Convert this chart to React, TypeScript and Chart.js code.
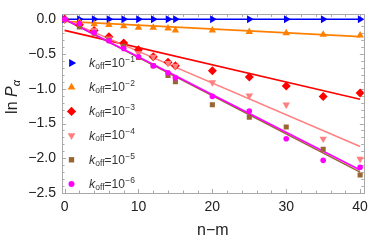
import React, { useEffect, useRef } from "react";
import { Chart, registerables } from "chart.js";
Chart.register(...registerables);

const xValues = [0, 2, 4, 6, 8, 10, 12, 14, 15, 20, 25, 30, 35, 40];
const exponents = ["−1", "−2", "−3", "−4", "−5", "−6"];
const koff1 = [0, 0, 0, 0, 0, 0, 0, 0, 0, 0, 0, 0, 0, 0];
const koff2 = [0, -0.04, -0.07, -0.08, -0.1, -0.12, -0.12, -0.13, -0.16, -0.16, -0.18, -0.2, -0.22, -0.23];
const koff3 = [0, -0.08, -0.16, -0.25, -0.34, -0.44, -0.54, -0.62, -0.67, -0.74, -0.83, -0.96, -1.11, -1.06];
const koff4 = [0, -0.08, -0.16, -0.28, -0.4, -0.49, -0.54, -0.63, -0.67, -0.91, -1.1, -1.23, -1.72, -2.01];
const koff5 = [0, -0.11, -0.2, -0.3, -0.39, -0.55, -0.67, -0.81, -0.9, -1.23, -1.41, -1.55, -1.87, -2.24];
const koff6 = [0, -0.06, -0.19, -0.31, -0.42, -0.54, -0.67, -0.77, -0.84, -1.11, -1.32, -1.72, -2.03, -2.13];
const fitX = [0, 40];
const fit1 = [0, 0];
const fit2 = [-0.03, -0.25];
const fit3 = [-0.16, -1.15];
const fit4 = [-0.005, -1.83];
const fit5 = [0, -2.2];
const fit6 = [0, -2.17];
const xTicks = [0, 10, 20, 30, 40];
const yTicks = [0, -0.5, -1, -1.5, -2, -2.5];

const seriesValues = [koff1, koff2, koff3, koff4, koff5, koff6];
const fitValues = [fit1, fit2, fit3, fit4, fit5, fit6];
const colors = ["#0000ff", "#ff8000", "#ff0000", "#ff8080", "#996633", "#ff00ff"];
const styles = ["triangle", "triangle", "rectRot", "triangle", "rect", "circle"];
const rotations = [90, 0, 0, 180, 0, 0];
const radii = [4.5, 4.3, 4.5, 4.3, 3.6, 2.8];

function drawMarker(ctx: CanvasRenderingContext2D, style: string, x: number, y: number, r: number, rotDeg: number, color: string) {
  ctx.save();
  ctx.fillStyle = color;
  ctx.beginPath();
  const rad = (rotDeg * Math.PI) / 180;
  if (style === "triangle") {
    let a = rad;
    ctx.moveTo(x + Math.sin(a) * r, y - Math.cos(a) * r);
    a += (2 * Math.PI) / 3;
    ctx.lineTo(x + Math.sin(a) * r, y - Math.cos(a) * r);
    a += (2 * Math.PI) / 3;
    ctx.lineTo(x + Math.sin(a) * r, y - Math.cos(a) * r);
    ctx.closePath();
  } else if (style === "rectRot") {
    const s = r * Math.SQRT1_2 * 1.0;
    ctx.moveTo(x, y - r);
    ctx.lineTo(x + r, y);
    ctx.lineTo(x, y + r);
    ctx.lineTo(x - r, y);
    ctx.closePath();
    void s;
  } else if (style === "rect") {
    const s = r * Math.SQRT1_2;
    ctx.rect(x - s, y - s, 2 * s, 2 * s);
  } else {
    ctx.arc(x, y, r, 0, Math.PI * 2);
  }
  ctx.fill();
  ctx.restore();
}

const decorPlugin = {
  id: "decor",
  beforeDatasetsDraw(chart: any) {
    const { ctx, chartArea: a, scales } = chart;
    const xs = scales.x;
    const ys = scales.y;
    ctx.save();
    ctx.strokeStyle = "#a8a8a8";
    ctx.lineWidth = 1;
    ctx.strokeRect(Math.round(a.left) + 0.5, Math.round(a.top) + 0.5, Math.round(a.right - a.left), Math.round(a.bottom - a.top));
    ctx.beginPath();
    for (let v = 0; v <= 40; v += 2) {
      const major = v % 10 === 0;
      const len = major ? 4 : 2.5;
      const px = Math.round(xs.getPixelForValue(v)) + 0.5;
      ctx.moveTo(px, a.bottom);
      ctx.lineTo(px, a.bottom - len);
      ctx.moveTo(px, a.top);
      ctx.lineTo(px, a.top + len);
    }
    for (let i = 0; i <= 25; i++) {
      const v = -i / 10;
      const major = i % 5 === 0;
      const len = major ? 4 : 2.5;
      const py = Math.round(ys.getPixelForValue(v)) + 0.5;
      ctx.moveTo(a.left, py);
      ctx.lineTo(a.left + len, py);
      ctx.moveTo(a.right, py);
      ctx.lineTo(a.right - len, py);
    }
    ctx.stroke();
    ctx.restore();
  },
  afterDraw(chart: any) {
    const { ctx, chartArea: a } = chart;
    ctx.save();
    // legend
    const mx = 71.5;
    const y0 = 63;
    const dy = 24.2;
    for (let i = 0; i < 6; i++) {
      const y = y0 + i * dy;
      drawMarker(ctx, styles[i], mx, y, radii[i] + 0.2, rotations[i], colors[i]);
      ctx.fillStyle = "#333";
      ctx.textBaseline = "middle";
      ctx.textAlign = "left";
      let tx = 89;
      ctx.font = "italic 12.5px 'Liberation Sans', Arial, sans-serif";
      ctx.fillText("k", tx, y + 0.5);
      tx += ctx.measureText("k").width;
      ctx.font = "8.5px 'Liberation Sans', Arial, sans-serif";
      ctx.fillText("off", tx, y + 3.5);
      tx += ctx.measureText("off").width;
      ctx.font = "12px 'Liberation Sans', Arial, sans-serif";
      ctx.fillText("=10", tx, y + 0.5);
      tx += ctx.measureText("=10").width + 0.3;
      ctx.font = "8.5px 'Liberation Sans', Arial, sans-serif";
      ctx.fillText(exponents[i], tx, y - 3.5);
    }
    // x title
    ctx.fillStyle = "#222";
    ctx.textAlign = "center";
    ctx.textBaseline = "middle";
    ctx.font = "16px 'Liberation Sans', Arial, sans-serif";
    ctx.fillText("n−m", (a.left + a.right) / 2 + 0, 231);
    // y title
    ctx.translate(13, 97);
    ctx.rotate(-Math.PI / 2);
    ctx.textAlign = "left";
    ctx.font = "16px 'Liberation Sans', Arial, sans-serif";
    const p1 = "ln ";
    ctx.font = "16px 'Liberation Sans', Arial, sans-serif";
    const w1 = ctx.measureText(p1).width;
    ctx.font = "italic 16px 'Liberation Sans', Arial, sans-serif";
    const w2 = ctx.measureText("P").width;
    ctx.font = "italic 11px 'Liberation Sans', Arial, sans-serif";
    const w3 = ctx.measureText("α").width;
    let sx = -(w1 + w2 + w3) / 2;
    ctx.font = "16px 'Liberation Sans', Arial, sans-serif";
    ctx.fillText(p1, sx, 0);
    sx += w1;
    ctx.font = "italic 16px 'Liberation Sans', Arial, sans-serif";
    ctx.fillText("P", sx, 0);
    sx += w2;
    ctx.font = "italic 11px 'Liberation Sans', Arial, sans-serif";
    ctx.fillText("α", sx, 4);
    ctx.restore();
  },
};

export default function App() {
  const ref = useRef<HTMLCanvasElement>(null);
  useEffect(() => {
    document.body.style.margin = "0";
    const datasets: any[] = [];
    for (let i = 0; i < 6; i++) {
      datasets.push({
        label: "fit" + i,
        data: fitX.map((x, j) => ({ x, y: fitValues[i][j] })),
        showLine: true,
        borderColor: colors[i],
        borderWidth: 1.6,
        pointRadius: 0,
        order: 20 - i,
      });
    }
    for (let i = 0; i < 6; i++) {
      datasets.push({
        label: "koff" + i,
        data: xValues.map((x, j) => ({ x, y: seriesValues[i][j] })),
        showLine: false,
        pointStyle: styles[i],
        rotation: rotations[i],
        pointRadius: radii[i],
        backgroundColor: colors[i],
        borderColor: colors[i],
        borderWidth: 0,
        order: 10 - i,
      });
    }
    const font = { family: "'Liberation Sans', Arial, sans-serif", size: 14 };
    const chart = new Chart(ref.current!, {
      type: "scatter",
      data: { datasets },
      plugins: [decorPlugin],
      options: {
        animation: false,
        responsive: false,
        events: [],
        layout: { padding: { top: 6, right: 8, left: 0, bottom: 0 } },
        plugins: { legend: { display: false }, tooltip: { enabled: false } },
        scales: {
          x: {
            type: "linear",
            min: -0.35,
            max: 40.5,
            afterBuildTicks: (s: any) => {
              s.ticks = xTicks.map((v) => ({ value: v }));
            },
            afterFit: (s: any) => {
              s.height = 49;
            },
            grid: { display: false, drawTicks: false },
            border: { display: false },
            ticks: {
              color: "#222",
              font,
              padding: 6,
              maxRotation: 0,
              autoSkip: false,
              callback: (v: any) => String(v),
            },
          },
          y: {
            type: "linear",
            min: -2.5,
            max: 0.07,
            afterBuildTicks: (s: any) => {
              s.ticks = yTicks.map((v) => ({ value: v }));
            },
            afterFit: (s: any) => {
              s.width = 62;
            },
            grid: { display: false, drawTicks: false },
            border: { display: false },
            ticks: {
              color: "#222",
              font,
              padding: 6,
              autoSkip: false,
              callback: (v: any) => (Number(v) < 0 ? "−" : "") + Math.abs(Number(v)).toFixed(1),
            },
          },
        },
      },
    });
    return () => chart.destroy();
  }, []);
  return <canvas ref={ref} width={374} height={242} style={{ display: "block" }} />;
}
